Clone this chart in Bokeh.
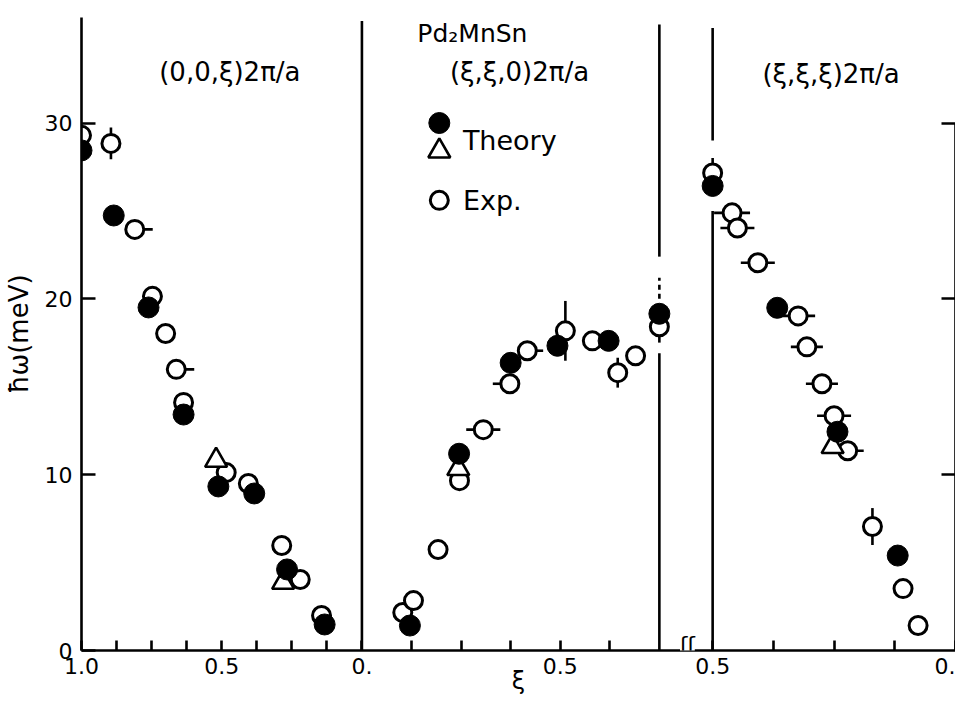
import numpy as np
from bokeh.plotting import figure
from bokeh.models import Range1d, LinearAxis, FixedTicker, Label
from bokeh.embed import file_html
from bokeh.resources import INLINE

# ---------------- data ----------------
# Panel 1 : (0,0,xi) 2pi/a, xi from 1.0 down to 0
p1_exp_xi = [1.00, 0.895, 0.81, 0.747, 0.70, 0.662, 0.636, 0.484, 0.405, 0.286, 0.22, 0.144]
p1_exp_E = [29.30, 28.84, 23.95, 20.14, 18.03, 15.99, 14.11, 10.12, 9.50, 5.97, 4.04, 1.99]
p1_exp_dxi_lo = [0, 0, 0.064, 0, 0, 0.064, 0, 0, 0, 0, 0, 0]
p1_exp_dxi_hi = [0, 0, 0, 0, 0, 0, 0, 0, 0, 0, 0, 0]
p1_exp_dE = [0, 0.9, 0, 0, 0, 0, 0, 0, 0, 0, 0, 0]
p1_th_xi = [1.00, 0.885, 0.761, 0.636, 0.512, 0.384, 0.267, 0.133]
p1_th_E = [28.44, 24.74, 19.51, 13.42, 9.33, 8.93, 4.61, 1.48]
p1_tri_xi = [0.52, 0.281]
p1_tri_E = [10.81, 3.87]

# Panel 2 : (xi,xi,0) 2pi/a, xi from 0 to 0.75
p2_exp_xi = [0.103, 0.130, 0.192, 0.246, 0.306, 0.373, 0.417, 0.513, 0.581, 0.645, 0.69, 0.75]
p2_exp_E = [2.16, 2.84, 5.74, 9.66, 12.56, 15.17, 17.05, 18.18, 17.61, 15.80, 16.76, 18.41]
p2_exp_dxi_lo = [0, 0, 0, 0, 0.043, 0.043, 0, 0, 0, 0, 0, 0]
p2_exp_dxi_hi = [0, 0, 0, 0, 0.043, 0, 0.04, 0, 0, 0, 0, 0]
p2_exp_dE = [0, 0, 0, 0, 0, 0, 0, 1.7, 0, 0.85, 0, 0.9]
p2_th_xi = [0.121, 0.245, 0.375, 0.493, 0.622, 0.75]
p2_th_E = [1.42, 11.19, 16.36, 17.33, 17.61, 19.15]
p2_tri_xi = [0.243]
p2_tri_E = [10.34]

# Panel 3 : (xi,xi,xi) 2pi/a, xi from 0.5 down to 0
p3_exp_xi = [0.5, 0.46, 0.449, 0.407, 0.324, 0.306, 0.275, 0.25, 0.222, 0.171, 0.108, 0.077]
p3_exp_E = [27.16, 24.89, 24.03, 22.05, 19.03, 17.27, 15.17, 13.35, 11.36, 7.05, 3.52, 1.42]
p3_exp_dxi = [0, 0.037, 0.035, 0.035, 0.035, 0.033, 0.033, 0.035, 0.033, 0, 0, 0]
p3_exp_dE = [0.85, 0, 0, 0, 0, 0, 0, 0, 0, 1.05, 0, 0]
p3_th_xi = [0.5, 0.367, 0.243, 0.119]
p3_th_E = [26.42, 19.49, 12.44, 5.40]
p3_tri_xi = [0.253]
p3_tri_E = [11.59]

# tick marks (xi values) and their labels for each panel
p1_ticks = [1.0, 0.875, 0.75, 0.625, 0.5, 0.375, 0.25, 0.125, 0.0]
p1_tick_labels = {1.0: "1.0", 0.5: "0.5", 0.0: "0."}
p2_ticks = [0.125, 0.25, 0.375, 0.5, 0.625]
p2_tick_labels = {0.5: "0.5"}
p3_ticks = [0.5, 0.375, 0.25, 0.125, 0.0]
p3_tick_labels = {0.5: "0.5", 0.0: "0."}
y_ticks = [0, 10, 20, 30]

# ---------------- path coordinate (|q| in units of 2pi/a) ----------------
S2, S3 = np.sqrt(2.0), np.sqrt(3.0)
P2_END = 0.75
P3_START = 0.5
GAP = 0.19
OFF3 = 1.0 + S2 * P2_END + GAP


def d1(xi):
    return 1.0 - np.asarray(xi, dtype=float)


def d2(xi):
    return 1.0 + S2 * np.asarray(xi, dtype=float)


def d3(xi):
    return OFF3 + S3 * (P3_START - np.asarray(xi, dtype=float))


X_END = float(d3(0.0))
Y_TOP = 36.0

FONT = "DejaVu Sans"
LW = 2.6

p = figure(frame_width=874, frame_height=633,
           x_range=Range1d(0, X_END), y_range=Range1d(0, Y_TOP),
           output_backend="svg", toolbar_location=None,
           min_border_left=80, min_border_right=0,
           min_border_top=17, min_border_bottom=10)
p.outline_line_color = None
p.grid.visible = False
p.background_fill_color = "white"
p.border_fill_color = "white"

# ---- x axis ----
xt, xl = [], {}
for tk in p1_ticks:
    v = float(d1(tk)); xt.append(v); xl[v] = p1_tick_labels.get(tk, "")
for tk in p2_ticks:
    v = float(d2(tk)); xt.append(v); xl[v] = p2_tick_labels.get(tk, "")
for tk in p3_ticks:
    v = float(d3(tk)); xt.append(v); xl[v] = p3_tick_labels.get(tk, "")
xa = p.xaxis[0]
xa.ticker = FixedTicker(ticks=xt)
xa.major_label_overrides = xl
xa.bounds = (0, X_END)
xa.major_tick_in = 10
xa.major_tick_out = 0
xa.minor_tick_line_color = None
xa.axis_line_width = LW
xa.major_tick_line_width = LW
xa.major_label_text_font = FONT
xa.major_label_text_font_size = "22px"
xa.major_label_text_color = "black"
xa.major_label_standoff = 7
xa.axis_label = "ξ"
xa.axis_label_text_font = FONT
xa.axis_label_text_font_size = "24px"
xa.axis_label_text_font_style = "normal"
xa.axis_label_text_color = "black"
xa.axis_label_standoff = -10

# ---- left y axis ----
ya = p.yaxis[0]
ya.ticker = FixedTicker(ticks=y_ticks)
ya.major_label_overrides = {t: str(t) for t in y_ticks}
ya.bounds = (0, Y_TOP)
ya.major_tick_in = 14
ya.major_tick_out = 0
ya.minor_tick_line_color = None
ya.axis_line_width = LW
ya.major_tick_line_width = LW
ya.major_label_text_font = FONT
ya.major_label_text_font_size = "22px"
ya.major_label_text_color = "black"
ya.major_label_standoff = 9
ya.axis_label = "ħω(meV)"
ya.axis_label_text_font = FONT
ya.axis_label_text_font_size = "26px"
ya.axis_label_text_font_style = "normal"
ya.axis_label_text_color = "black"
ya.axis_label_standoff = 8

# ---- right axis (ticks only) ----
ra = LinearAxis(ticker=FixedTicker(ticks=[10, 20, 30]), bounds=(0, 30),
                major_tick_in=14, major_tick_out=0, minor_tick_line_color=None,
                axis_line_width=LW, major_tick_line_width=LW,
                major_label_overrides={10: "", 20: "", 30: ""},
                major_label_standoff=0)
p.add_layout(ra, "right")

# ---- panel boundary lines ----
bx0 = [1.0, float(d2(P2_END)), float(d2(P2_END)), float(d3(P3_START)), float(d3(P3_START))]
by0 = [0.0, 0.0, 22.4, 0.0, 29.0]
by1 = [35.8, 16.9, 35.6, 25.0, 35.4]
p.segment(x0=bx0, y0=by0, x1=bx0, y1=by1, line_color="black", line_width=LW)
p.segment(x0=[float(d2(P2_END))], y0=[20.0], x1=[float(d2(P2_END))], y1=[21.2],
          line_color="black", line_width=LW, line_dash="5 4")

# ---- error bars ----
def hbars(fn, xi, E, lo, hi):
    xi = np.asarray(xi, float); E = np.asarray(E, float)
    lo = np.asarray(lo, float); hi = np.asarray(hi, float)
    m = (lo > 0) | (hi > 0)
    return fn(xi[m] - lo[m]), E[m], fn(xi[m] + hi[m]), E[m]


def vbars(fn, xi, E, dE):
    xi = np.asarray(xi, float); E = np.asarray(E, float); dE = np.asarray(dE, float)
    m = dE > 0
    return fn(xi[m]), E[m] - dE[m], fn(xi[m]), E[m] + dE[m]


segs = [
    hbars(d1, p1_exp_xi, p1_exp_E, p1_exp_dxi_lo, p1_exp_dxi_hi),
    vbars(d1, p1_exp_xi, p1_exp_E, p1_exp_dE),
    hbars(d2, p2_exp_xi, p2_exp_E, p2_exp_dxi_lo, p2_exp_dxi_hi),
    vbars(d2, p2_exp_xi, p2_exp_E, p2_exp_dE),
    hbars(d3, p3_exp_xi, p3_exp_E, p3_exp_dxi, p3_exp_dxi),
    vbars(d3, p3_exp_xi, p3_exp_E, p3_exp_dE),
]
for sx0, sy0, sx1, sy1 in segs:
    if len(sx0):
        p.segment(x0=list(sx0), y0=list(sy0), x1=list(sx1), y1=list(sy1),
                  line_color="black", line_width=LW)

# ---- markers ----
exp_x = np.concatenate([d1(p1_exp_xi), d2(p2_exp_xi), d3(p3_exp_xi)])
exp_y = np.concatenate([p1_exp_E, p2_exp_E, p3_exp_E])
tri_x = np.concatenate([d1(p1_tri_xi), d2(p2_tri_xi), d3(p3_tri_xi)])
tri_y = np.concatenate([p1_tri_E, p2_tri_E, p3_tri_E])
th_x = np.concatenate([d1(p1_th_xi), d2(p2_th_xi), d3(p3_th_xi)])
th_y = np.concatenate([p1_th_E, p2_th_E, p3_th_E])

OPEN = dict(marker="circle", size=18, fill_color="white", line_color="black", line_width=3)
TRI = dict(marker="triangle", size=22, fill_color="white", line_color="black", line_width=2.6)
FILL = dict(marker="circle", size=21, fill_color="black", line_color="black", line_width=1)

p.scatter(x=exp_x, y=exp_y, **OPEN)
p.scatter(x=tri_x, y=tri_y, **TRI)
p.scatter(x=th_x, y=th_y, **FILL)

# ---- legend (drawn by hand, as in the original) ----
LEG_X = 1.276
p.scatter(x=[LEG_X], y=[30.0], **FILL)
p.scatter(x=[LEG_X], y=[28.4], **TRI)
p.scatter(x=[LEG_X], y=[25.6], **OPEN)
p.add_layout(Label(x=1.36, y=29.0, text="Theory", text_font=FONT, text_font_size="27px",
                   text_baseline="middle", text_align="left", text_color="black"))
p.add_layout(Label(x=1.36, y=25.6, text="Exp.", text_font=FONT, text_font_size="27px",
                   text_baseline="middle", text_align="left", text_color="black"))

# ---- titles ----
titles = [
    (0.529, 32.9, "(0,0,ξ)2π/a", "26px"),
    (1.394, 35.1, "Pd₂MnSn", "25px"),
    (1.562, 32.9, "(ξ,ξ,0)2π/a", "26px"),
    (2.673, 32.8, "(ξ,ξ,ξ)2π/a", "26px"),
]
for tx, ty, tt, fs in titles:
    p.add_layout(Label(x=tx, y=ty, text=tt, text_font=FONT, text_font_size=fs,
                       text_align="center", text_baseline="middle", text_color="black"))

# ---- axis break mark ----
p.add_layout(Label(x=float(d2(P2_END)) + 0.1, y=0, text="ʃʃ", text_font=FONT,
                   text_font_size="22px", text_align="center", text_baseline="bottom",
                   y_offset=-6, background_fill_color="white", text_color="black"))

open("out.html", "w").write(file_html(p, INLINE))
